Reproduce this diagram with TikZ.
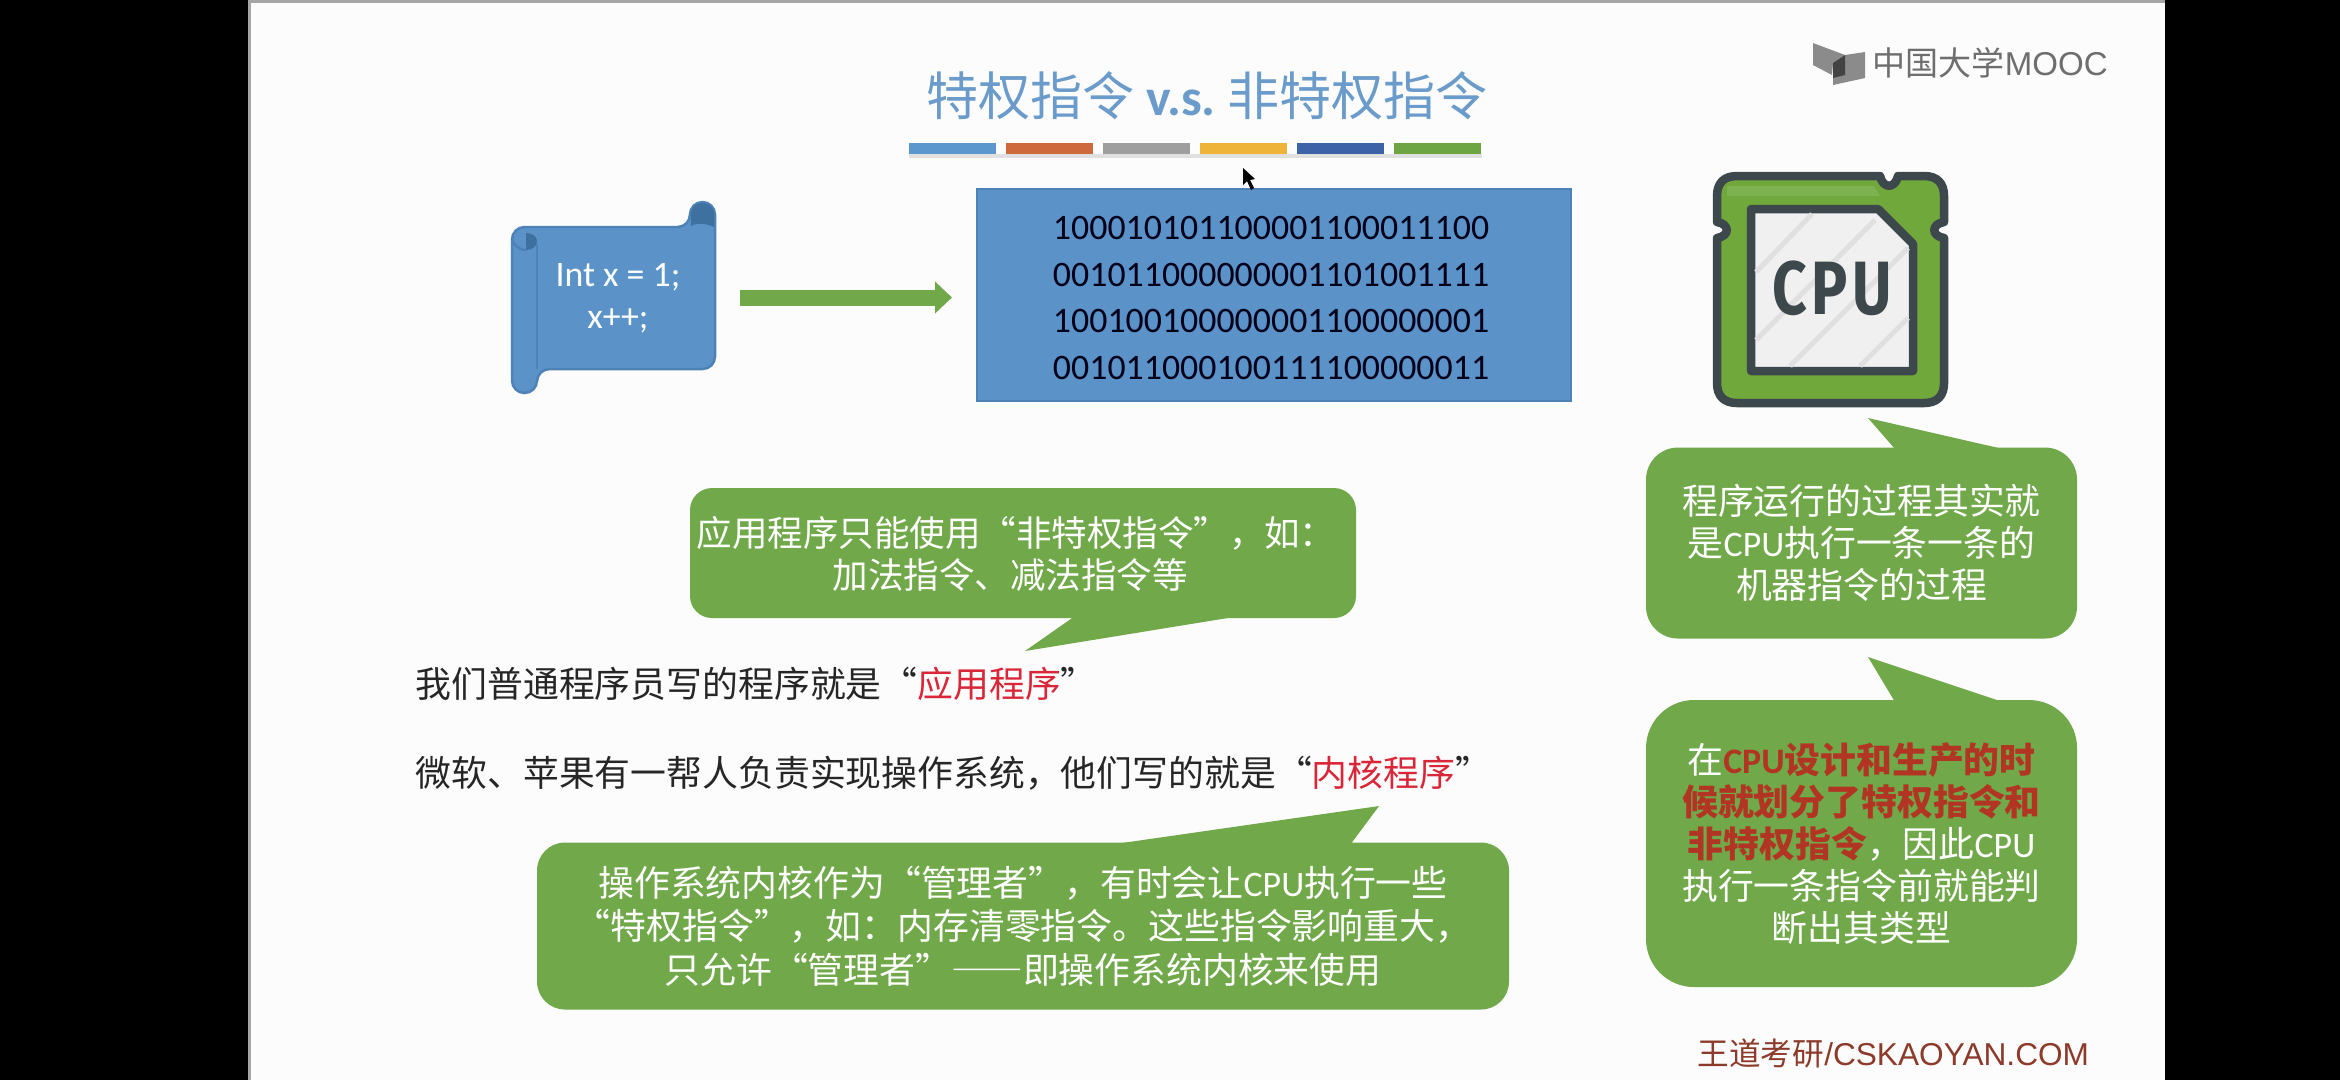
\documentclass[tikz,border=0pt]{standalone}
\usepackage{fontspec}
\setmainfont[RawFeature=+fwid]{Noto Sans CJK SC}
\newfontfamily\latinfont{Carlito}
\newfontfamily\arialfont{Liberation Sans}
\newfontfamily\chipfont{Fira Sans}
\usepackage{xcolor}
\definecolor{slideblue}{RGB}{91,147,201}
\definecolor{scrollline}{RGB}{78,130,182}
\definecolor{scrollshade}{RGB}{62,112,160}
\definecolor{titleblue}{RGB}{106,155,202}
\definecolor{bubblegreen}{RGB}{112,168,74}
\definecolor{chipgreen}{RGB}{112,168,60}
\definecolor{chipdark}{RGB}{61,72,76}
\definecolor{redtext}{RGB}{217,38,56}
\definecolor{bubblered}{RGB}{178,52,34}
\definecolor{markred}{RGB}{140,58,42}
\definecolor{logogrey}{RGB}{110,110,110}
\usetikzlibrary{arrows.meta, positioning}
\newcommand{\cpuword}{{\latinfont CPU}}

\begin{document}
\begin{tikzpicture}[
	x=0.1mm, y=-0.1mm,
	titlebar/.style={rectangle, minimum width=8.7mm, minimum height=1.1mm, inner sep=0pt, outer sep=0pt},
	bubble/.style={rectangle, fill=bubblegreen, text=white, align=center, inner sep=0pt,
	              font=\fontsize{10.2pt}{12pt}\selectfont},
	bubbletail/.style={fill=bubblegreen},
	plain/.style={rectangle, inner sep=0pt, anchor=west, text=black!85,
	              font=\fontsize{10.2pt}{12pt}\selectfont},
	scrollbody/.style={fill=slideblue, draw=scrollline, line width=0.25mm},
	chipline/.style={draw=chipdark, line width=0.85mm, line join=round},
	blockarr/.style={-{Triangle[length=1.7mm, width=3.1mm]}, draw=bubblegreen, line width=1.6mm}
	]
\useasboundingbox (0,0) rectangle (2340,1080);

% Slide on black
\fill[black] (0,0) rectangle (2340,1080);
\fill[white!99!black] (249,0) rectangle (2165,1080);
\draw[black!35, line width=0.3mm] (249,1080) -- (249,1) -- (2165,1);

% Title and colour bars
\node[inner sep=0pt, text=titleblue, font=\fontsize{14.8pt}{16pt}\selectfont] (title) at (1207,96)
	{特权指令{\latinfont\bfseries\ v.s.\ }非特权指令};
\fill[black!12] (909,154) rectangle (1482,158);
\node[titlebar, fill={rgb,255:red,91;green,150;blue,205}, anchor=north west] (bar1) at (909,143) {};
\node[titlebar, fill={rgb,255:red,205;green,105;blue,60}, right=1mm of bar1] (bar2) {};
\node[titlebar, fill=black!38, right=1mm of bar2] (bar3) {};
\node[titlebar, fill={rgb,255:red,238;green,180;blue,58}, right=1mm of bar3] (bar4) {};
\node[titlebar, fill={rgb,255:red,62;green,98;blue,168}, right=1mm of bar4] (bar5) {};
\node[titlebar, fill={rgb,255:red,110;green,165;blue,68}, right=1mm of bar5] (bar6) {};

% MOOC logo
\fill[logogrey!80] (1813,43) -- (1845,55) -- (1833,63) -- (1832,75) -- (1813,65) -- cycle;
\fill[logogrey!80] (1865,52) -- (1865,78) -- (1833,85) -- (1833,63) -- (1845,55) -- cycle;
\fill[logogrey!130] (1845,55) -- (1845,75) -- (1833,78) -- (1833,63) -- cycle;
\node[inner sep=0pt, anchor=west, text=logogrey, font=\fontsize{9.4pt}{11pt}\selectfont] (logo) at (1872,63)
	{中国大学{\arialfont MOOC}};

% Source scroll
\node[rectangle, minimum width=20.3mm, minimum height=19.1mm, inner sep=0pt] (scroll) at (613.5,297.5) {};
\draw[scrollbody, rounded corners=1.25mm] (512,393) -- (512,227) -- (690,227) -- (690,202)
	-- (715,202) -- (715,369) -- (537,369) -- (537,393) -- cycle;
\draw[draw=scrollline, line width=0.25mm] (537,244) -- (537,369);
\fill[scrollshade] (526,233) .. controls (533,233) and (537,237) .. (537,241)
	.. controls (537,246) and (533,250) .. (526,250) -- cycle;
\draw[draw=scrollline, line width=0.25mm] (512,240) .. controls (516,248) and (521,250) .. (526,250);
\fill[scrollshade] (691,226) -- (691,214) .. controls (691,207) and (696,203) .. (702.5,203)
	.. controls (709,203) and (714,207) .. (714,214) -- (714,227) .. controls (708,224) and (697,222) .. cycle;
\node[inner sep=0pt, align=center, text=white, font=\fontsize{10.2pt}{12pt}\latinfont\selectfont] (srctxt) at (618,298.5)
	{Int x = 1;\\x++;};

% Machine code
\node[rectangle, fill=slideblue, draw=scrollline, line width=0.2mm, minimum width=59.4mm, minimum height=21.2mm,
	inner sep=0pt] (code) at (1274,295) {};
\node[inner sep=0pt, align=center, text=black!90!blue, font=\fontsize{10.2pt}{13.3pt}\latinfont\selectfont] (codetxt) at (1271,298)
	{100010101100001100011100\\
	001011000000001101001111\\
	100100100000001100000001\\
	001011000100111100000011};
\draw[blockarr, shorten <=2.4mm, shorten >=2.4mm] (scroll.east) -- (scroll.east -| code.west);

% Mouse pointer
\fill[black] (1243,168) -- (1243,185) -- (1247,181) -- (1251,190) -- (1254,188) -- (1250,180) -- (1255,179) -- cycle;

% CPU chip
\draw[chipline, fill=chipgreen] (1717,196) .. controls (1717,183) and (1724,176) .. (1737,176)
	-- (1880,176) .. controls (1883,189) and (1895,189) .. (1898,176)
	-- (1924,176) .. controls (1937,176) and (1944,183) .. (1944,196)
	-- (1944,222) .. controls (1931,224) and (1931,236) .. (1944,238)
	-- (1944,383) .. controls (1944,396) and (1937,403) .. (1924,403)
	-- (1737,403) .. controls (1724,403) and (1717,396) .. (1717,383)
	-- (1717,238) .. controls (1730,236) and (1730,224) .. (1717,222) -- cycle;
\fill[chipgreen!90!white] (1727,186) -- (1874,186) -- (1880,196) -- (1727,196) -- cycle;
\draw[chipline, fill=black!6] (1751,209) -- (1878,209) -- (1913,244) -- (1913,371) -- (1751,371) -- cycle;
\draw[black!12, line width=0.5mm] (1756,272) -- (1812,214) (1756,340) -- (1875,220) (1790,366) -- (1908,248) (1860,366) -- (1908,318);
\node[inner sep=0pt, text=chipdark, xscale=0.8, font=\fontsize{21.5pt}{24pt}\chipfont\bfseries\selectfont] (chiptxt) at (1832,288)
	{C\kern1.5pt P\kern1.5pt U};

% Callouts on the right
\node[bubble, rounded corners=3.2mm, minimum width=43.1mm, minimum height=19.1mm] (run) at (1861.5,543)
	{程序运行的过程其实就\\是\cpuword 执行一条一条的\\机器指令的过程};
\fill[bubbletail] (1895,449) -- (1868,418) -- (2003,449) -- cycle;
\node[bubble, rounded corners=4.8mm, minimum width=43.1mm, minimum height=28.7mm] (decide) at (1861.5,843.5)
	{在{\bfseries\color{bubblered}\latinfont CPU}{\bfseries\color{bubblered}设计和生产的时}\\
	{\bfseries\color{bubblered}候就划分了特权指令和}\\
	{\bfseries\color{bubblered}非特权指令}，因此\cpuword\\
	执行一条指令前就能判\\
	断出其类型};
\fill[bubbletail] (1895,702) -- (1868,657) -- (2003,702) -- cycle;

% Application programs
\node[bubble, rounded corners=2.2mm, minimum width=66.6mm, minimum height=13mm] (app) at (1023,553) {};
\node[bubble, fill=none, font=\fontsize{10.1pt}{12pt}\selectfont] (apptxt) at (1016,554)
	{应用程序只能使用“非特权指令”，如：\\加法指令、减法指令等\hspace*{1.2mm}};
\fill[bubbletail] (1075,616) -- (1025,651) -- (1240,616) -- cycle;
\node[plain] (appline) at (415,684)
	{我们普通程序员写的程序就是“{\color{redtext}应用程序}”};

% Kernel programs
\node[plain] (kernline) at (415,773)
	{微软、苹果有一帮人负责实现操作系统，他们写的就是“{\color{redtext}内核程序}”};
\node[bubble, rounded corners=2.8mm, minimum width=97.2mm, minimum height=16.7mm,
	font=\fontsize{10.2pt}{12.4pt}\selectfont] (kern) at (1023,926)
	{操作系统内核作为“管理者”，有时会让\cpuword 执行一些\\
	“特权指令”，如：内存清零指令。这些指令影响重大，\\
	只允许“管理者”——即操作系统内核来使用};
\fill[bubbletail] (1108,845) -- (1379,806) -- (1350,845) -- cycle;

% Watermark
\node[inner sep=0pt, anchor=west, text=markred, font=\fontsize{9pt}{10pt}\selectfont] (mark) at (1697,1053)
	{王道考研{\arialfont /CSKAOYAN.COM}};

\end{tikzpicture}
\end{document}
